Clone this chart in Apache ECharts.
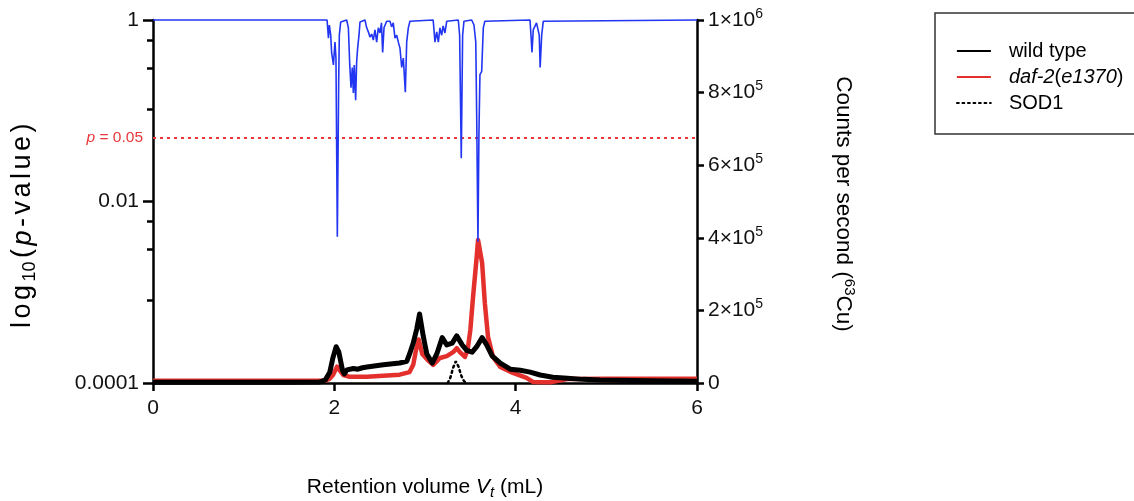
<!DOCTYPE html>
<html><head><meta charset="utf-8">
<script src="https://cdn.jsdelivr.net/npm/echarts@6/dist/echarts.min.js"></script>
<style>html,body{margin:0;padding:0;background:#fff}#c{width:1134px;height:501px}</style>
</head><body><div id="c"></div>
<script>
// ---- DATA ----
const xTicks = [0, 2, 4, 6];
const leftMajorTicks = [1, 0.01, 0.0001];
const leftMinorTicks = [0.6, 0.295, 0.105, 0.006, 0.003, 0.00081];
const rightTicks = [0, 200000, 400000, 600000, 800000, 1000000];
const pThreshold = 0.05;

// p-value trace (blue), left log axis
const pVolume = [0, 1.92, 1.935, 1.945, 1.96, 1.97, 1.99, 2.007, 2.018, 2.033,
  2.048, 2.055, 2.07, 2.136, 2.155, 2.17, 2.184, 2.198, 2.21, 2.22,
  2.235, 2.246, 2.257, 2.272, 2.283, 2.338, 2.357, 2.375, 2.393, 2.412,
  2.43, 2.448, 2.467, 2.485, 2.504, 2.52, 2.533, 2.548, 2.577, 2.614,
  2.632, 2.65, 2.669, 2.688, 2.706, 2.724, 2.743, 2.761, 2.783, 2.798,
  2.816, 2.834, 3.09, 3.11, 3.129, 3.147, 3.165, 3.184, 3.2, 3.22,
  3.24, 3.367, 3.382, 3.40, 3.415, 3.43, 3.515, 3.54, 3.56, 3.57,
  3.584, 3.595, 3.606, 3.625, 3.643, 3.66, 4.158, 4.169, 4.18, 4.194,
  4.23, 4.25, 4.26, 4.27, 4.287, 4.305, 4.32, 6];
const pValues = [1, 1, 0.63, 0.88, 0.68, 0.44, 0.32, 0.57, 0.38, 0.0041,
  0.21, 0.68, 0.95, 1, 0.82, 0.32, 0.18, 0.30, 0.157, 0.32,
  0.131, 0.345, 0.49, 0.68, 0.95, 1, 0.82, 0.74, 0.65, 0.70,
  0.60, 0.78, 0.57, 0.82, 0.72, 0.93, 0.44, 0.82, 0.97, 0.97,
  0.84, 0.93, 0.63, 0.68, 0.57, 0.49, 0.30, 0.38, 0.16, 0.57,
  0.82, 0.97, 1, 0.57, 0.74, 0.57, 0.82, 0.68, 0.86, 0.72,
  0.97, 1, 0.68, 0.030, 0.68, 0.97, 1, 0.88, 0.57, 0.09,
  0.0036, 0.058, 0.25, 0.27, 0.82, 0.97, 1, 0.68, 0.44, 0.78,
  0.93, 0.97, 0.68, 0.30, 0.68, 0.97, 1, 1];

// wild type (black), counts per second
const wtVolume = [0, 1.5, 1.84, 1.90, 1.95, 1.985, 2.02, 2.05, 2.09, 2.11,
  2.14, 2.21, 2.26, 2.31, 2.36, 2.54, 2.72, 2.80, 2.83, 2.87,
  2.91, 2.94, 2.98, 3.02, 3.08, 3.13, 3.19, 3.24, 3.30, 3.35,
  3.41, 3.46, 3.52, 3.57, 3.63, 3.68, 3.74, 3.83, 3.94, 4.05,
  4.16, 4.27, 4.41, 4.57, 4.74, 4.93, 5.48, 6];
const wtCounts = [2000, 2000, 3000, 8000, 30000, 70000, 100000, 85000, 35000, 25000,
  36000, 40000, 38000, 42000, 44000, 50000, 55000, 60000, 80000, 110000,
  150000, 190000, 130000, 80000, 55000, 80000, 125000, 105000, 110000, 130000,
  105000, 90000, 85000, 100000, 125000, 105000, 75000, 55000, 38000, 35000,
  30000, 22000, 16000, 13000, 10000, 8000, 6000, 5000];

// daf-2(e1370) (red)
const dafVolume = [0, 1.8, 1.9, 1.95, 1.985, 2.03, 2.06, 2.10, 2.17, 2.36,
  2.54, 2.72, 2.83, 2.87, 2.90, 2.93, 2.97, 3.03, 3.09, 3.165,
  3.24, 3.31, 3.35, 3.385, 3.44, 3.47, 3.50, 3.53, 3.57, 3.585,
  3.63, 3.66, 3.695, 3.75, 3.83, 3.97, 4.12, 4.19, 4.38, 4.57,
  5.0, 6];
const dafCounts = [6000, 6000, 6000, 12000, 22000, 45000, 35000, 22000, 17000, 17000,
  20000, 23000, 30000, 50000, 90000, 120000, 80000, 63000, 50000, 69000,
  74000, 85000, 96000, 85000, 72000, 91000, 146000, 237000, 347000, 394000,
  331000, 220000, 127000, 72000, 44000, 28000, 14000, 3000, 2000, 11000,
  12000, 12000];

// SOD1 standard (dotted)
const sodVolume = [3.25, 3.28, 3.31, 3.34, 3.37, 3.40, 3.43, 3.46];
const sodCounts = [0, 15000, 42000, 60000, 45000, 20000, 5000, 0];

// ---- CHART ----
const FONT = 'Liberation Sans, Arial, Helvetica, sans-serif';
const zip = (a, b) => a.map((v, i) => [v, b[i]]);
const lg = v => Math.log10(v);
const supNames = {200000: '2', 400000: '4', 600000: '6', 800000: '8', 1000000: '1'};
// spread characters of a title into rich tokens
const spread = (s, style) => s.split('').map(ch => '{' + style + '|' + ch + '}').join('');

const chart = echarts.init(document.getElementById('c'), null, {renderer: 'canvas'});
const option = {
  animation: false,
  backgroundColor: '#fff',
  textStyle: {fontFamily: FONT},
  grid: {left: 153, right: 437, top: 20, bottom: 118, containLabel: false, outerBoundsMode: 'none'},
  xAxis: {
    type: 'value', min: 0, max: 6, interval: 2,
    axisLine: {show: true, onZero: false, lineStyle: {color: '#000', width: 2.5}},
    axisTick: {show: true, length: 8, lineStyle: {color: '#000', width: 2.5}},
    axisLabel: {fontSize: 21, color: '#111', margin: 15, fontFamily: FONT},
    splitLine: {show: false}
  },
  yAxis: [
    {
      type: 'value', min: -4, max: 0, position: 'left',
      axisLine: {show: true, lineStyle: {color: '#000', width: 2.5}},
      axisTick: {show: true, length: 10, lineStyle: {color: '#000', width: 2.5},
        customValues: leftMajorTicks.map(lg)},
      axisLabel: {fontSize: 21, color: '#111', margin: 14, fontFamily: FONT,
        customValues: leftMajorTicks.map(lg),
        formatter: v => {
          const i = leftMajorTicks.map(lg).findIndex(t => Math.abs(t - v) < 1e-6);
          return i >= 0 ? String(leftMajorTicks[i]) : '';
        }},
      splitLine: {show: false}
    },
    {
      type: 'value', min: 0, max: 1000000, interval: 200000, position: 'right',
      axisLine: {show: true, lineStyle: {color: '#000', width: 2.5}},
      axisTick: {show: true, length: 7, lineStyle: {color: '#000', width: 2.5}},
      axisLabel: {
        margin: 11, color: '#111', fontFamily: FONT, fontSize: 21,
        formatter: v => v === 0 ? '{n|0}' : '{n|' + supNames[v] + '×10}{s|' + (v === 1000000 ? 6 : 5) + '}',
        rich: {
          n: {fontSize: 21, lineHeight: 26, fontFamily: FONT, color: '#111', verticalAlign: 'middle'},
          s: {fontSize: 14, lineHeight: 14, fontFamily: FONT, color: '#111', verticalAlign: 'top'}
        }
      },
      splitLine: {show: false}
    },
    {
      type: 'value', min: -4, max: 0, position: 'left',
      axisLine: {show: false},
      axisTick: {show: true, length: 6, lineStyle: {color: '#000', width: 2.5},
        customValues: leftMinorTicks.map(lg)},
      axisLabel: {show: false},
      splitLine: {show: false}
    }
  ],
  legend: {
    orient: 'vertical', left: 951, top: 34, padding: 5,
    itemWidth: 34, itemHeight: 14, itemGap: 2,
    data: ['wild type', 'daf-2(e1370)', 'SOD1'],
    lineStyle: {width: 1.8},
    itemStyle: {opacity: 0, color: 'rgba(0,0,0,0)', borderWidth: 0},
    textStyle: {fontSize: 20, color: '#000', fontFamily: FONT, lineHeight: 24, padding: [0, 0, 0, 13],
      rich: {
        i: {fontSize: 20, fontStyle: 'italic', fontFamily: FONT, color: '#000'},
        n: {fontSize: 20, fontFamily: FONT, color: '#000'}
      }},
    formatter: name => name === 'daf-2(e1370)' ? '{i|daf-2}{n|(}{i|e1370}{n|)}' : name
  },
  series: [
    {
      name: 'daf-2(e1370)', type: 'line', yAxisIndex: 1, symbol: 'none', clip: false, z: 2,
      data: zip(dafVolume, dafCounts),
      lineStyle: {color: '#e3302d', width: 4.5, join: 'round'}, itemStyle: {color: '#e3302d'}
    },
    {
      name: 'wild type', type: 'line', yAxisIndex: 1, symbol: 'none', clip: false, z: 3,
      data: zip(wtVolume, wtCounts),
      lineStyle: {color: '#000', width: 5, join: 'round'}, itemStyle: {color: '#000'}
    },
    {
      name: 'SOD1', type: 'line', yAxisIndex: 1, symbol: 'none', clip: false, z: 4,
      data: zip(sodVolume, sodCounts),
      lineStyle: {color: '#000', width: 2.5, type: [2, 3.5], cap: 'round'}, itemStyle: {color: '#000'}
    },
    {
      name: 'p-value', type: 'line', yAxisIndex: 0, symbol: 'none', clip: false, z: 5,
      data: zip(pVolume, pValues.map(lg)),
      lineStyle: {color: '#2236f2', width: 1.6}, itemStyle: {color: '#2236f2'},
      markLine: {
        silent: true, symbol: 'none', animation: false,
        lineStyle: {color: '#e8373a', width: 2.2, type: [3, 4]},
        label: {
          show: true, position: 'start', distance: 10,
          formatter: '{i|p}{n| = 0.05}',
          rich: {
            i: {fontSize: 15.5, fontStyle: 'italic', color: '#e8373a', fontFamily: FONT},
            n: {fontSize: 15.5, color: '#e8373a', fontFamily: FONT}
          }
        },
        data: [{yAxis: lg(pThreshold)}]
      }
    }
  ],
  graphic: [
    {type: 'rect', z: 100, shape: {x: 935, y: 13, width: 260, height: 121},
      style: {fill: 'none', stroke: '#333', lineWidth: 1.5}},
    {type: 'text', z: 100, x: 23, y: 224, rotation: Math.PI / 2,
      style: {text: spread('log', 'n') + '{s|10}' + spread('(', 'n') + '{i|p}' + spread('-value)', 'n'),
        align: 'center', verticalAlign: 'middle', fill: '#000',
        rich: {
          n: {fontSize: 27, lineHeight: 32, fontFamily: FONT, verticalAlign: 'middle', padding: [0, 3.5, 0, 0]},
          i: {fontSize: 27, lineHeight: 32, fontFamily: FONT, fontStyle: 'italic', verticalAlign: 'middle', padding: [0, 3.5, 0, 0]},
          s: {fontSize: 18, lineHeight: 18, fontFamily: FONT, verticalAlign: 'bottom', padding: [0, 3.5, 0, 0]}
        }}},
    {type: 'text', z: 100, x: 843, y: 204, rotation: -Math.PI / 2,
      style: {text: '{n|Counts per second (}{u|63}{n|Cu)}', align: 'center', verticalAlign: 'middle', fill: '#000',
        rich: {
          n: {fontSize: 22.5, lineHeight: 27, fontFamily: FONT, verticalAlign: 'middle'},
          u: {fontSize: 15, lineHeight: 15, fontFamily: FONT, verticalAlign: 'top'}
        }}},
    {type: 'text', z: 100, x: 425, y: 487,
      style: {text: '{n|Retention volume }{i|V}{s|t}{n| (mL)}', align: 'center', verticalAlign: 'middle', fill: '#000',
        rich: {
          n: {fontSize: 21, lineHeight: 26, fontFamily: FONT, verticalAlign: 'middle'},
          i: {fontSize: 21, lineHeight: 26, fontFamily: FONT, fontStyle: 'italic', verticalAlign: 'middle'},
          s: {fontSize: 15, lineHeight: 15, fontFamily: FONT, fontStyle: 'italic', verticalAlign: 'bottom'}
        }}}
  ]
};
chart.setOption(option);
</script>
</body></html>
